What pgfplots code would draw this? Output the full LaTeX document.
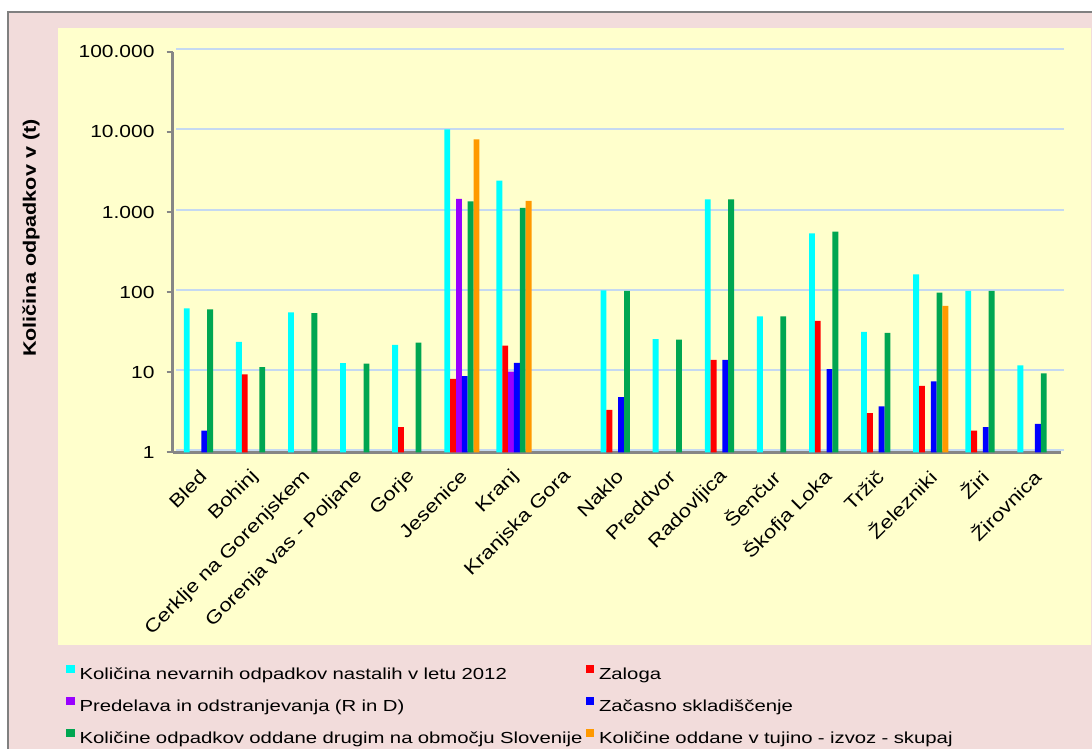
\documentclass[border=0pt]{standalone}
\usepackage{fontspec}
\setmainfont[FakeStretch=1.2]{Liberation Sans}
\newfontfamily\legendfont[FakeStretch=1.27]{Liberation Sans}
\usepackage{pgfplots}
\pgfplotsset{compat=1.18}

\definecolor{chartpink}{RGB}{242,220,219}
\definecolor{plotyellow}{RGB}{255,255,204}
\definecolor{gridblue}{RGB}{197,217,241}
\definecolor{axisgray}{RGB}{134,134,134}
\definecolor{bordergray}{RGB}{128,128,128}
\definecolor{sCyan}{RGB}{0,255,255}
\definecolor{sRed}{RGB}{255,0,0}
\definecolor{sPurple}{RGB}{153,0,255}
\definecolor{sBlue}{RGB}{0,0,255}
\definecolor{sGreen}{RGB}{0,166,81}
\definecolor{sOrange}{RGB}{255,153,0}

\begin{document}
\begin{tikzpicture}[x=1pt,y=1pt]
\useasboundingbox (0,0) rectangle (1092,749);
\fill[white] (0,0) rectangle (1092,749);
\fill[chartpink] (8,0) rectangle (1092,737);
\draw[bordergray, line width=2.5pt] (8,0) -- (8,737) -- (1092,737);
\fill[plotyellow] (58,104) rectangle (1091,721);

\begin{axis}[
  at={(172.7pt,296.5pt)}, anchor=south west,
  scale only axis, width=888.3pt, height=400.8pt,
  xmin=-0.55, xmax=16.5, ymin=1, ymax=100000, ymode=log,
  enlargelimits=false,
  ybar=0pt, bar width=5.85pt,
  every axis plot/.append style={draw=none,
    legend image code/.code={\fill[##1] (0pt,2pt) rectangle (8.5pt,10pt);}},
  axis x line*=bottom, axis y line*=left,
  axis line style={-, draw=axisgray, line width=2.5pt},
  ytick={1,10,100,1000,10000,100000},
  yticklabels={1,10,100,1.000,10.000,100.000},
  yminorticks=false,
  tick align=outside, major tick length=6pt,
  ytick style={draw=axisgray, line width=2pt},
  xtick={0,...,16}, xtick style={draw=none},
  xticklabels={Bled, Bohinj, Cerklje na Gorenjskem, Gorenja vas - Poljane, Gorje,
    Jesenice, Kranj, Kranjska Gora, Naklo, Preddvor, Radovljica, Šenčur,
    Škofja Loka, Tržič, Železniki, Žiri, Žirovnica},
  xticklabel style={yshift=-15pt, xshift=2pt, rotate=45, anchor=east, inner sep=0pt,
    font=\fontsize{18.4}{21}\selectfont},
  yticklabel style={anchor=east, inner sep=0pt, xshift=-12pt,
    font=\fontsize{17.5}{20}\selectfont},
  ymajorgrids,
  major grid style={draw=gridblue, line width=2pt, xshift=3.3pt, yshift=2.5pt},
  ylabel={Količina odpadkov v (t)},
  ylabel style={font=\bfseries\fontsize{18}{20}\selectfont,
    at={(axis description cs:-0.1595,0.535)}, anchor=center},
  legend columns=2,
  legend cell align=left,
  legend style={at={(axis description cs:-0.1201,-0.5302)}, anchor=north west,
    draw=none, fill=none, inner sep=0pt, outer sep=0pt, row sep=14pt,
    font=\legendfont\fontsize{16}{19}\selectfont,
    nodes={inner sep=0pt, text height=12pt, text depth=4pt, text width=500pt, align=left},
    /tikz/every odd column/.append style={column sep=5pt},
    /tikz/every even column/.append style={column sep=6pt}},
]
% Količina nevarnih odpadkov nastalih v letu 2012
\addplot[fill=sCyan] coordinates {
  (0,63) (1,24) (2,56) (3,13) (4,22) (5,10700) (6,2460)
  (8,105) (9,26) (10,1440) (11,50) (12,540) (13,32) (14,167) (15,104) (16,12.2)};
\addlegendentry{\mbox{Količina nevarnih odpadkov nastalih v letu 2012}}
% Zaloga
\addplot[fill=sRed] coordinates {
  (1,9.4) (4,2.07) (5,8.3) (6,21.6) (8,3.4) (10,14.3) (12,44) (13,3.1) (14,6.8) (15,1.88)};
\addlegendentry{Zaloga}
% Predelava in odstranjevanja (R in D)
\addplot[fill=sPurple] coordinates {(5,1456) (6,10.2)};
\addlegendentry{\mbox{Predelava in odstranjevanja (R in D)}}
% Začasno skladiščenje
\addplot[fill=sBlue] coordinates {
  (0,1.88) (5,9.0) (6,13.1) (8,4.9) (10,14.3) (12,11.0) (13,3.75) (14,7.7) (15,2.07) (16,2.28)};
\addlegendentry{Začasno skladiščenje}
% Količine odpadkov oddane drugim na območju Slovenije
\addplot[fill=sGreen] coordinates {
  (0,61) (1,11.6) (2,54.6) (3,12.8) (4,23.5) (5,1360) (6,1125)
  (8,104) (9,25.6) (10,1440) (11,50) (12,570) (13,31) (14,99) (15,104) (16,9.7)};
\addlegendentry{\mbox{Količine odpadkov oddane drugim na območju Slovenije}}
% Količine oddane v tujino - izvoz - skupaj
\addplot[fill=sOrange] coordinates {(5,8070) (6,1375) (14,67.5)};
\addlegendentry{\mbox{Količine oddane v tujino - izvoz - skupaj}}
\end{axis}
\end{tikzpicture}
\end{document}
